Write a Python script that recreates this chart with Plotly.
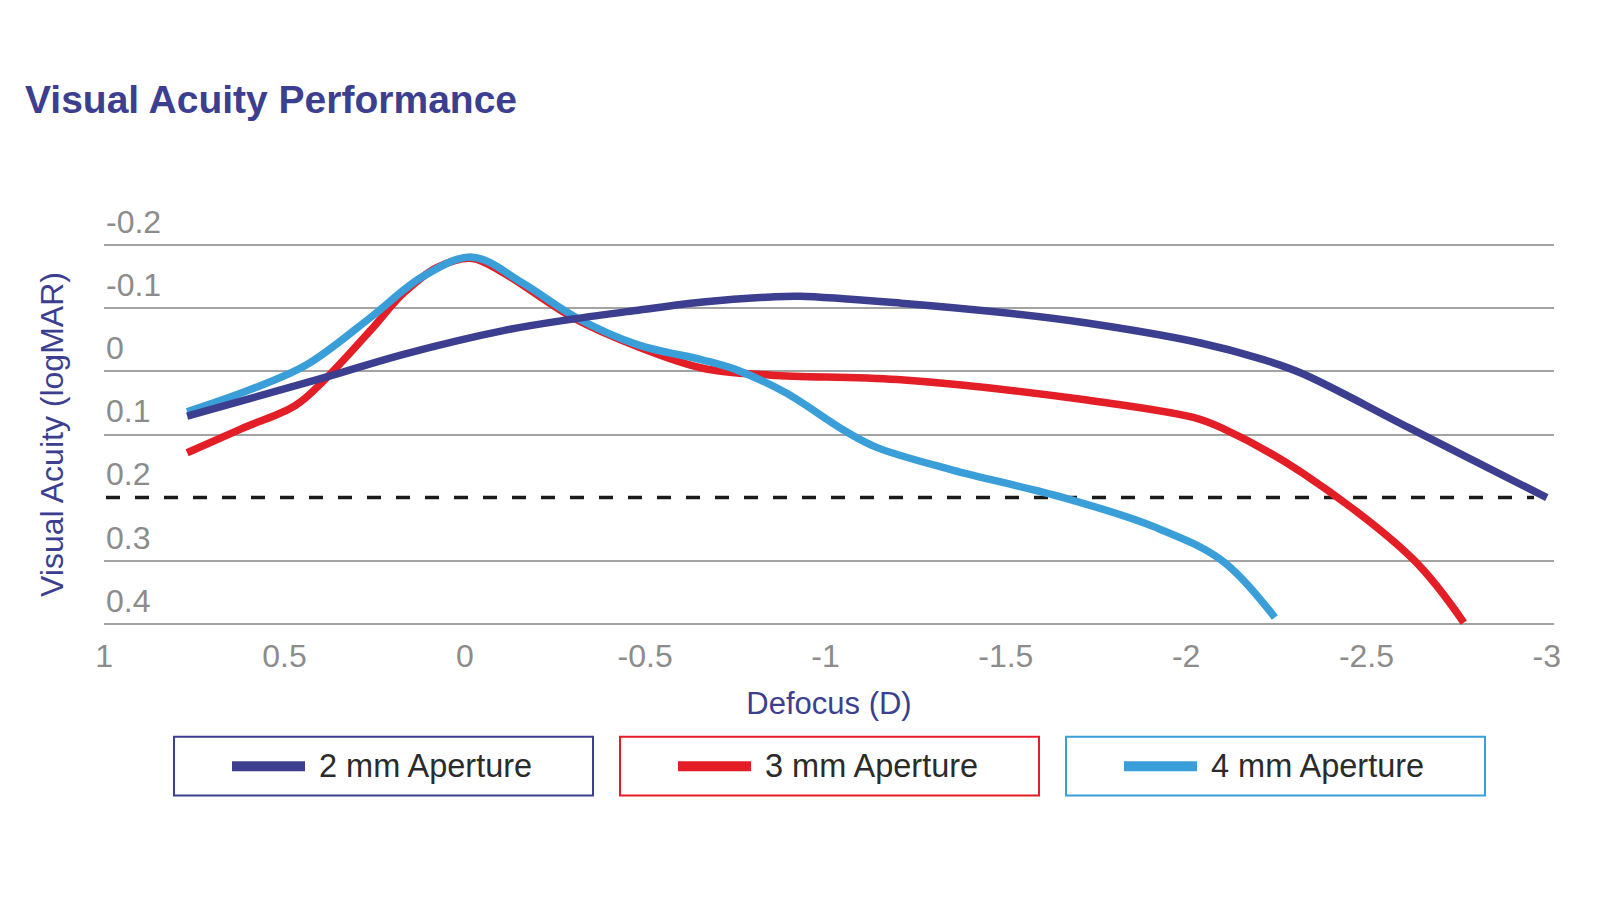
import plotly.graph_objects as go

# ---------------- data ----------------
series_names = ["2 mm Aperture", "3 mm Aperture", "4 mm Aperture"]
series_colors = ["#3c3f8f", "#e31e26", "#3a9fd9"]

defocus_2mm = [0.77, 0.39, 0.17, -0.11, -0.30, -0.48, -0.66, -0.85, -0.93, -1.21, -1.51, -1.72, -2.04, -2.20, -2.32, -2.62, -3.00]
va_2mm = [0.071, 0.010, -0.027, -0.065, -0.083, -0.097, -0.110, -0.118, -0.119, -0.108, -0.092, -0.077, -0.045, -0.021, 0.003, 0.090, 0.200]

defocus_3mm = [0.77, 0.62, 0.47, 0.39, 0.26, 0.17, 0.075, -0.02, -0.11, -0.30, -0.48, -0.66, -0.85, -1.20, -1.72, -2.02, -2.10, -2.32, -2.63, -2.77]
va_3mm = [0.129, 0.091, 0.054, 0.014, -0.066, -0.124, -0.165, -0.179, -0.155, -0.085, -0.039, -0.005, 0.006, 0.013, 0.045, 0.073, 0.090, 0.160, 0.298, 0.398]

defocus_4mm = [0.77, 0.60, 0.44, 0.26, 0.12, -0.02, -0.16, -0.31, -0.48, -0.66, -0.755, -0.89, -1.05, -1.14, -1.35, -1.66, -1.91, -2.10, -2.246]
va_4mm = [0.064, 0.030, -0.010, -0.086, -0.149, -0.181, -0.140, -0.085, -0.042, -0.018, -0.002, 0.034, 0.093, 0.120, 0.156, 0.200, 0.246, 0.300, 0.390]

x_tick_vals = [1, 0.5, 0, -0.5, -1, -1.5, -2, -2.5, -3]
x_tick_text = ["1", "0.5", "0", "-0.5", "-1", "-1.5", "-2", "-2.5", "-3"]
y_tick_vals = [-0.2, -0.1, 0, 0.1, 0.2, 0.3, 0.4]
y_tick_text = ["-0.2", "-0.1", "0", "0.1", "0.2", "0.3", "0.4"]
y_grid_vals = [-0.2, -0.1, 0, 0.1, 0.3, 0.4]
threshold = 0.2

title_text = "Visual Acuity Performance"
x_title = "Defocus (D)"
y_title = "Visual Acuity (logMAR)"

# ---------------- layout constants ----------------
W, H = 1600, 917
OFF = 8                       # page body margin
PLOT_L, PLOT_R = 104, 1554    # page pixels of plot area
PLOT_T, PLOT_B = 241.8, 627.2
L = PLOT_L - OFF
R = W - (PLOT_R - OFF)
T = PLOT_T - OFF
B = H - (PLOT_B - OFF)
PW, PH = W - L - R, H - T - B
FONT = "Liberation Sans, Arial, sans-serif"
NAVY = "#3c3f8f"
GRID = "#a3a3a3"
TICK = "#8c8c8c"
Y_RANGE = [0.405, -0.205]


def xp(px):
    return (px - OFF - L) / PW


def yp(py):
    return (H - B - (py - OFF)) / PH


fig = go.Figure()

# (x, y, series index, y-axis) ; the top-most series sits on the grid axis (same range)
series = [
    (defocus_3mm, va_3mm, 1, "y"),
    (defocus_4mm, va_4mm, 2, "y"),
    (defocus_2mm, va_2mm, 0, "y2"),
]
for xs, ys, i, yax in series:
    fig.add_trace(go.Scatter(
        x=xs, y=ys, mode="lines", name=series_names[i], yaxis=yax,
        line=dict(color=series_colors[i], width=7.5, shape="spline", smoothing=1.0),
        showlegend=False, hoverinfo="skip",
    ))

shapes = [
    dict(type="line", xref="paper", yref="y", x0=xp(106), x1=xp(1534), y0=threshold, y1=threshold,
         line=dict(color="#1a1a1a", width=3.5, dash="14px,15px"), layer="between"),
]
annotations = []

# custom legend boxes
box_lefts = [174, 620, 1066]
box_w, box_top, box_bot = 419, 737, 796
cy = (box_top + box_bot) / 2
for i, bl in enumerate(box_lefts):
    shapes.append(dict(type="rect", xref="paper", yref="paper",
                       x0=xp(bl), x1=xp(bl + box_w), y0=yp(box_bot), y1=yp(box_top),
                       line=dict(color=series_colors[i], width=2), fillcolor="rgba(0,0,0,0)"))
    shapes.append(dict(type="line", xref="paper", yref="paper",
                       x0=xp(bl + 58), x1=xp(bl + 131), y0=yp(cy), y1=yp(cy),
                       line=dict(color=series_colors[i], width=10)))
    annotations.append(dict(xref="paper", yref="paper", x=xp(bl + 143), y=yp(cy),
                            xanchor="left", yanchor="middle", showarrow=False,
                            text=series_names[i],
                            font=dict(family=FONT, size=32.5, color="#2b2b2b")))

fig.update_layout(
    width=W, height=H,
    margin=dict(l=L, r=R, t=T, b=B, autoexpand=False),
    paper_bgcolor="white", plot_bgcolor="white",
    font=dict(family=FONT),
    title=dict(text=title_text, x=17 / W, xanchor="left", xref="container",
               y=1 - 91 / H, yanchor="middle", yref="container",
               font=dict(family=FONT, size=39, color=NAVY, weight="bold")),
    shapes=shapes, annotations=annotations,
    showlegend=False,
    xaxis=dict(
        range=[1.0005, -3.02], tickvals=x_tick_vals, ticktext=x_tick_text,
        showgrid=False, zeroline=False, showline=False,
        ticks="outside", ticklen=1, tickcolor="rgba(0,0,0,0)",
        tickfont=dict(family=FONT, size=32, color=TICK),
        title=dict(text=x_title, font=dict(family=FONT, size=31, color=NAVY), standoff=18),
    ),
    yaxis=dict(
        range=Y_RANGE, tickvals=y_tick_vals, ticktext=y_tick_text,
        showgrid=False, zeroline=False, showline=False,
        ticks="", ticklabelposition="inside top", ticklabeloverflow="allow",
        ticklabelstandoff=-1, ticklabelshift=1,
        tickfont=dict(family=FONT, size=32, color=TICK),
        title=dict(text=y_title, font=dict(family=FONT, size=32, color=NAVY), standoff=32),
    ),
    # grid axis: grid lines at every tick except the 0.2 threshold (drawn dashed)
    yaxis2=dict(
        overlaying="y", anchor="x", side="left", range=Y_RANGE,
        tickvals=y_grid_vals, showticklabels=False, ticks="",
        showgrid=True, gridcolor=GRID, gridwidth=1.6, zeroline=False, showline=False,
    ),
)

fig.write_html("out.html")
